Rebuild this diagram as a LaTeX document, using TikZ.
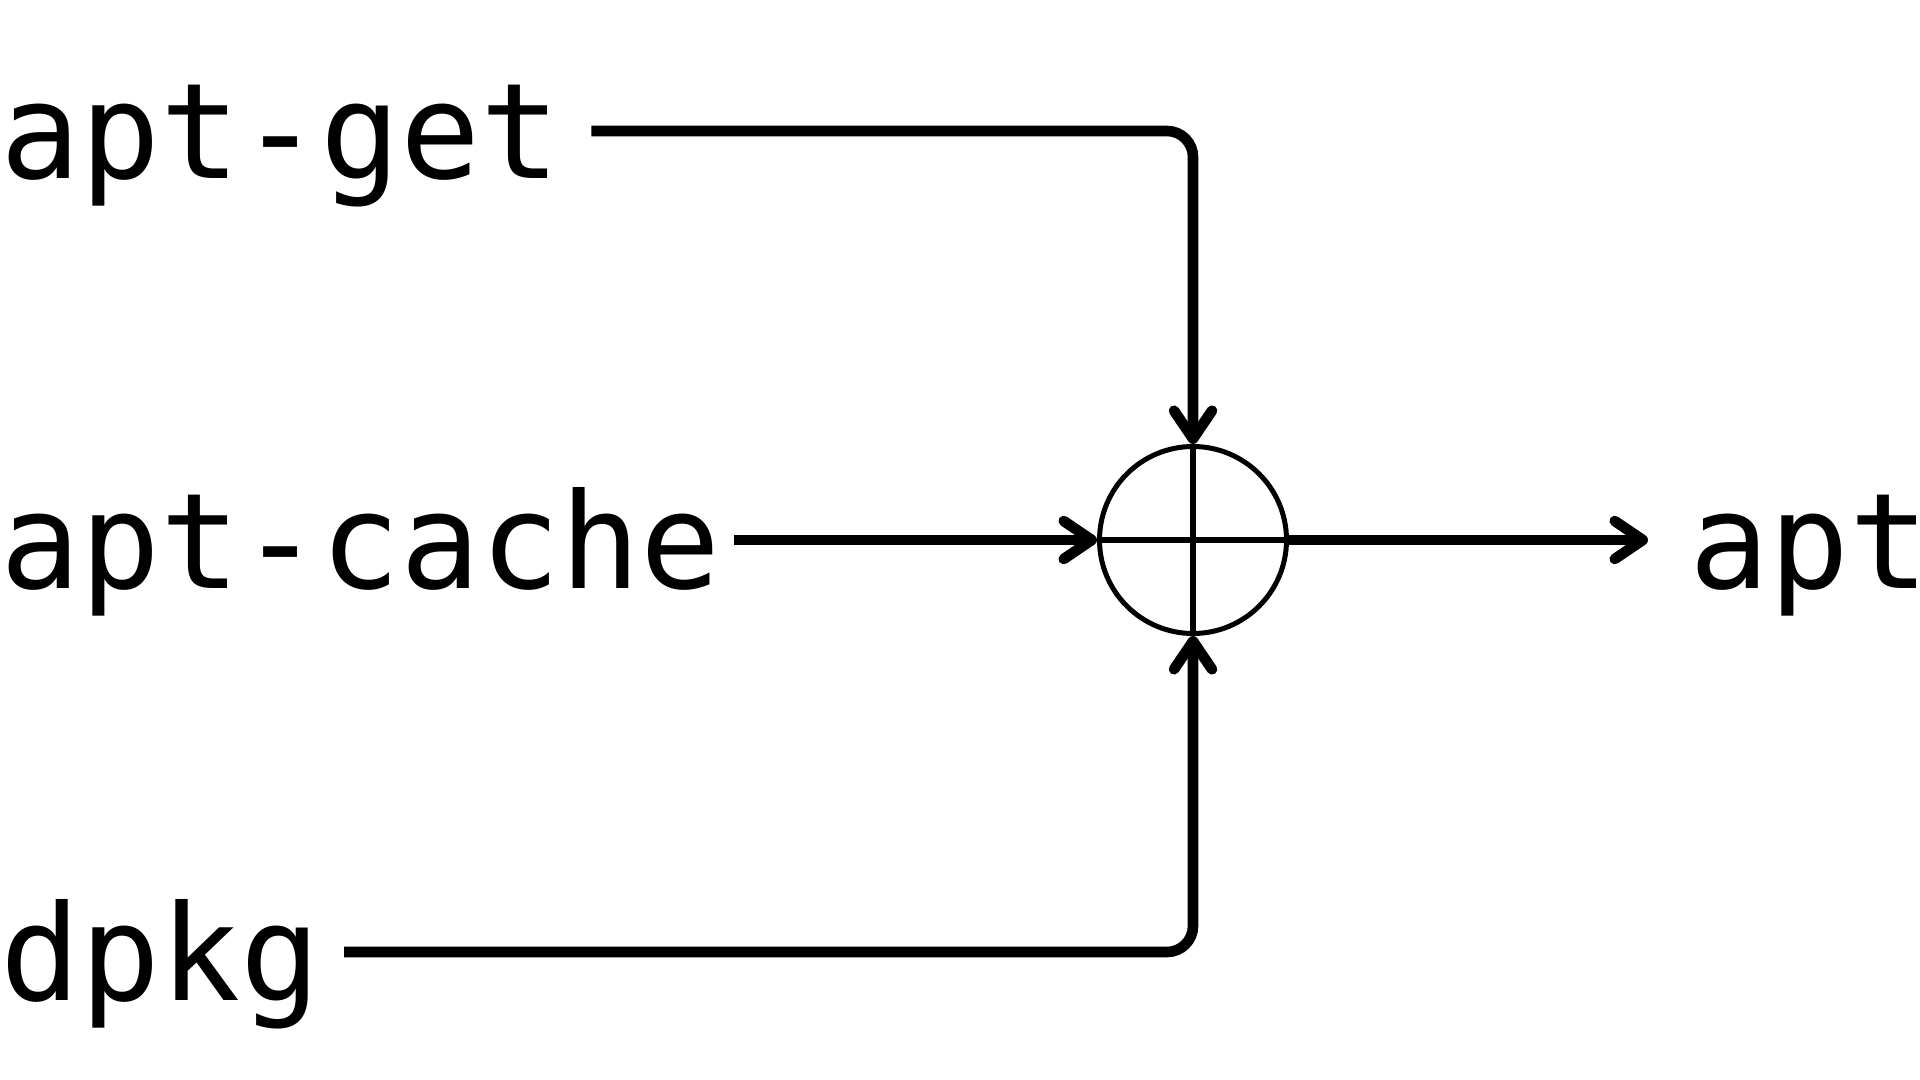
\documentclass[tikz,border=0pt]{standalone}
\usepackage{fontspec}
\setmonofont{DejaVu Sans Mono}
\usetikzlibrary{arrows.meta}
\tikzset{
  cmd/.style={anchor=west, inner sep=0pt, text height=48pt, text depth=0pt,
    font=\ttfamily\fontsize{66.5}{70}\selectfont},
  flow/.style={line width=5.3pt, rounded corners=13pt,
    -{Straight Barb[length=14pt,width=19pt,round]}},
}
\begin{document}
\begin{tikzpicture}[x=0.5pt,y=0.5pt,yscale=-1,xscale=1]
\useasboundingbox (0,0) rectangle (1920,1080);

% Text Node
\node[cmd] (aptget) at (0,131) {apt-get};
% Text Node
\node[cmd] (aptcache) at (0,540) {apt-cache};
% Text Node
\node[cmd] (dpkg) at (0,952) {dpkg};
% Text Node
\node[cmd] (apt) at (1689,540) {apt};

% Sum
\node[circle, draw, line width=2.5pt, inner sep=0pt, minimum size=93.5pt] (sum) at (1193,540) {};
\draw[line width=3pt] (sum.north) -- (sum.south) (sum.west) -- (sum.east);

% Straight Lines
\draw[flow] ([xshift=15pt]aptget.east) -| (sum.north);
\draw[flow] ([xshift=6.5pt]aptcache.east) -- (sum.west);
\draw[flow] ([xshift=11.5pt]dpkg.east) -| (sum.south);
\draw[flow] (sum.east) -- ([xshift=-20.5pt]apt.west);

\end{tikzpicture}
\end{document}
